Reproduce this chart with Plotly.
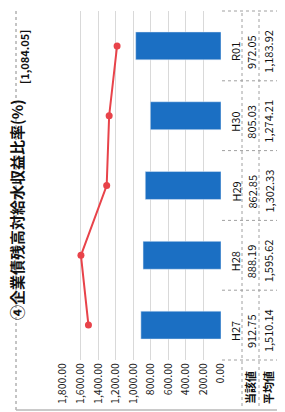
import plotly.graph_objects as go

categories = ["H27", "H28", "H29", "H30", "R01"]
current_values = [912.75, 888.19, 862.85, 805.03, 972.05]
average_values = [1510.14, 1595.62, 1302.33, 1274.21, 1183.92]
tick_values = [0, 200, 400, 600, 800, 1000, 1200, 1400, 1600, 1800]
title_text = "④企業債残高対給水収益比率(%)"
reference_text = "[1,084.05]"
row_labels = ["当該値", "平均値"]

W, H = 285, 412
L = 55
WP = W - L
FONT = "Noto Sans CJK JP"
PLOT_TOP, PLOT_BOTTOM = 3, 352

def px(x):
    return (x - L) / WP

def py(y):
    return 1 - y / H

fig = go.Figure()
fig.add_trace(go.Bar(
    x=current_values, y=categories, orientation="h",
    marker=dict(color="#1b6fc3"), width=0.4, name=row_labels[0],
))
fig.add_trace(go.Scatter(
    x=average_values, y=categories, mode="lines+markers",
    line=dict(color="#e8434a", width=2),
    marker=dict(color="#e8434a", size=7), name=row_labels[1],
))

def ann(text, x, y, size=11, color="#111", xshift=0):
    return dict(text=text, x=x, y=y, xref="paper", yref="paper", textangle=-90,
                showarrow=False, xanchor="center", yanchor="middle", xshift=xshift,
                font=dict(family=FONT, size=size, color=color))

annotations = [
    ann("<b>" + title_text + "</b>", px(28), py(202), size=15, xshift=-20),
    ann("<b>" + reference_text + "</b>", px(44), py(49), size=11, xshift=-28),
]

step = (PLOT_BOTTOM - PLOT_TOP) / len(categories)
for i, (cat, cv, av) in enumerate(zip(categories, current_values, average_values)):
    yc = PLOT_BOTTOM - (i + 0.5) * step + 6
    annotations.append(ann(cat, px(227), py(yc)))
    annotations.append(ann(f"{cv:,.2f}", px(243), py(yc)))
    annotations.append(ann(f"{av:,.2f}", px(260), py(yc)))
for lab, xx in zip(row_labels, [242, 260]):
    annotations.append(ann("<b>" + lab + "</b>", px(xx), py(380)))

shapes = []
dash_style = dict(color="#a0a0a0", width=1, dash="dot")
for k in range(len(categories) + 1):
    yb = PLOT_BOTTOM - k * step
    shapes.append(dict(type="line", xref="paper", yref="paper", x0=px(214), x1=px(270),
                       y0=py(yb), y1=py(yb), line=dash_style))
for xx in [234, 251, 270]:
    shapes.append(dict(type="line", xref="paper", yref="paper", x0=px(xx), x1=px(xx),
                       y0=py(398), y1=py(2), line=dash_style))
shapes.append(dict(type="line", xref="paper", yref="paper", x0=px(8), x1=px(8),
                   y0=py(402), y1=py(0), line=dict(color="#8a8a8a", width=1, dash="dot")))
shapes.append(dict(type="line", xref="paper", yref="paper", x0=px(8), x1=px(280),
                   y0=py(402), y1=py(402), line=dict(color="#b8b8b8", width=1.5)))

fig.update_layout(
    width=W, height=H, margin=dict(l=L, r=0, t=0, b=0, autoexpand=False),
    paper_bgcolor="white", plot_bgcolor="white", showlegend=False,
    xaxis=dict(domain=[0, px(213)], range=[1800, 0], tickvals=tick_values,
               tickformat=",.2f", tickangle=-90, showgrid=True, gridcolor="#d9d9d9",
               zeroline=False, ticks="", automargin=False,
               tickfont=dict(family=FONT, size=10.5, color="#222")),
    yaxis=dict(domain=[py(PLOT_BOTTOM), py(PLOT_TOP)], showticklabels=False,
               showgrid=False, zeroline=False, ticks="", automargin=False),
    annotations=annotations, shapes=shapes,
)
fig.write_html("out.html")
